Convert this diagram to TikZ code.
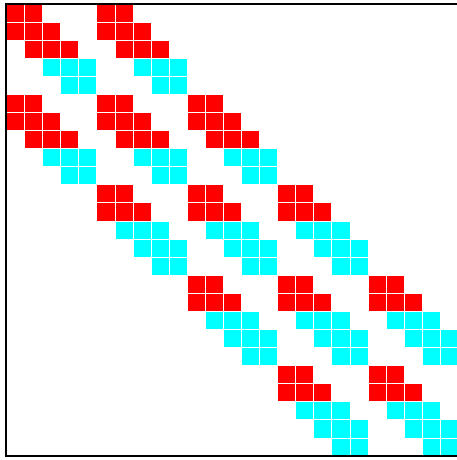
\documentclass[tikz,border=0pt]{standalone}
\usepackage{xcolor}
\usepackage{tikz}
\definecolor{blockred}{HTML}{FF0000}
\definecolor{blockcyan}{HTML}{00FFFF}

\begin{document}
\begin{tikzpicture}[x=0.5cm, y=-0.5cm,
    redcell/.style={fill=blockred, draw=white, line width=0.6pt},
    cyancell/.style={fill=blockcyan, draw=white, line width=0.6pt}]
\useasboundingbox (-0.354,-0.221) rectangle (24.867,25.221);

% Block tridiagonal pattern (5x5 blocks, each one tridiagonal)
\foreach \bi in {0,...,4} {
  \pgfmathtruncatemacro{\nred}{\bi<2 ? 3 : 2}
  \foreach \bj in {0,...,4} {
    \pgfmathtruncatemacro{\bdist}{abs(\bi-\bj)}
    \ifnum\bdist<2
      \foreach \r in {0,...,4} {
        \foreach \c in {0,...,4} {
          \pgfmathtruncatemacro{\cdist}{abs(\r-\c)}
          \ifnum\cdist<2
            \ifnum\r<\nred
              \draw[redcell] (\bj*5+\c,\bi*5+\r) rectangle +(1,1);
            \else
              \draw[cyancell] (\bj*5+\c,\bi*5+\r) rectangle +(1,1);
            \fi
          \fi
        }
      }
    \fi
  }
}

% Frame
\draw[line width=1.6pt] (0,0) rectangle (25,25);
\end{tikzpicture}
\end{document}
